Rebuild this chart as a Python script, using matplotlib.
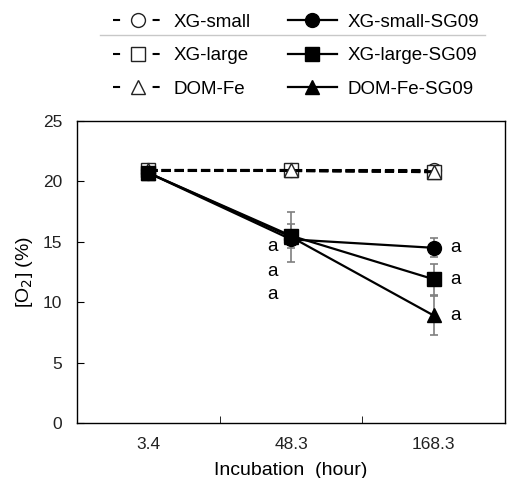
import matplotlib
matplotlib.use("Agg")
import matplotlib.pyplot as plt
from matplotlib.lines import Line2D

plt.rcParams['font.family'] = ['Liberation Sans', 'DejaVu Sans']

categories = ["3.4", "48.3", "168.3"]
xg_small = [20.9, 20.9, 20.9]
xg_large = [20.9, 20.9, 20.8]
dom_fe = [20.9, 20.9, 20.8]
xg_small_sg = [20.7, 15.2, 14.5]
xg_small_sg_err = [0.1, 0.5, 0.8]
xg_large_sg = [20.7, 15.5, 11.9]
xg_large_sg_err = [0.1, 1.0, 1.3]
dom_fe_sg = [20.7, 15.4, 8.9]
dom_fe_sg_err = [0.1, 2.1, 1.6]
letters_48 = ["a", "a", "a"]
letters_48_y = [14.6, 12.5, 10.6]
letters_168 = ["a", "a", "a"]
labels = ["XG-small", "XG-large", "DOM-Fe", "XG-small-SG09", "XG-large-SG09", "DOM-Fe-SG09"]

fig = plt.figure(figsize=(5.07, 4.78), dpi=100)
ax = fig.add_axes([0.152, 0.115, 0.844, 0.632])
x = list(range(len(categories)))

ms = 10
for vals, err in [(xg_small_sg, xg_small_sg_err), (xg_large_sg, xg_large_sg_err), (dom_fe_sg, dom_fe_sg_err)]:
    ax.errorbar(x, vals, yerr=err, fmt='none', ecolor='#7f7f7f', elinewidth=1.2, capsize=3, capthick=1.2, zorder=2)

dash = (0, (3.0, 1.3))
open_kw = dict(mfc='white', mec='#222222', mew=1)
ax.plot(x, xg_small, linestyle=dash, color='black', lw=2.2, marker='o', ms=ms, zorder=3, **open_kw)
ax.plot(x, xg_large, linestyle=dash, color='black', lw=2.2, marker='s', ms=ms, zorder=3, **open_kw)
ax.plot(x, dom_fe, linestyle=dash, color='black', lw=2.2, marker='^', ms=ms, zorder=3, **open_kw)
ax.plot(x, xg_small_sg, '-', color='black', lw=1.6, marker='o', ms=ms, zorder=4)
ax.plot(x, xg_large_sg, '-', color='black', lw=1.6, marker='s', ms=ms, zorder=4)
ax.plot(x, dom_fe_sg, '-', color='black', lw=1.6, marker='^', ms=ms, zorder=4)

for t, yv in zip(letters_48, letters_48_y):
    ax.text(x[1] - 0.13, yv, t, fontsize=13.5, ha='center', va='center')
for t, yv in zip(letters_168, [xg_small_sg[2], xg_large_sg[2], dom_fe_sg[2]]):
    ax.text(x[2] + 0.15, yv, t, fontsize=13.5, ha='center', va='center')

ax.set_xlim(-0.5, 2.5)
ax.set_ylim(0, 25)
ax.set_yticks([0, 5, 10, 15, 20, 25])
ax.set_xticks(x)
ax.set_xticklabels(categories)
ax.set_xticks([0.5, 1.5], minor=True)
ax.tick_params(axis='x', which='major', length=0, labelsize=12.5, pad=10, colors='#222222')
ax.tick_params(axis='x', which='minor', direction='in', length=5)
ax.tick_params(axis='y', direction='in', length=5, labelsize=12.5, pad=10.5, labelcolor='#222222')
for s in ax.spines.values():
    s.set_linewidth(1.0)
ax.set_xlabel("Incubation  (hour)", fontsize=14, labelpad=7)
ax.set_ylabel("[O$_2$] (%)", fontsize=14, labelpad=6)

# legend proxies
ldash = (0, (3.4, 15.6))
proxies = [
    Line2D([], [], linestyle=ldash, color='black', lw=1.5, marker='o', ms=ms, **open_kw),
    Line2D([], [], linestyle=ldash, color='black', lw=1.5, marker='s', ms=ms, **open_kw),
    Line2D([], [], linestyle=ldash, color='black', lw=1.5, marker='^', ms=ms, **open_kw),
    Line2D([], [], linestyle='-', color='black', lw=1.6, marker='o', ms=ms),
    Line2D([], [], linestyle='-', color='black', lw=1.6, marker='s', ms=ms),
    Line2D([], [], linestyle='-', color='black', lw=1.6, marker='^', ms=ms),
]
leg = fig.legend(proxies, labels,
                 ncol=2, frameon=False, fontsize=13.5, loc='upper left',
                 bbox_to_anchor=(0.19, 1.007), handlelength=2.6, handletextpad=0.6,
                 columnspacing=2.0, labelspacing=0.88)
fig.add_artist(Line2D([100 / 507, 485 / 507], [1 - 35 / 478, 1 - 35 / 478], color='#c8c8c8', lw=1))

fig.savefig("out.png", dpi=100)
